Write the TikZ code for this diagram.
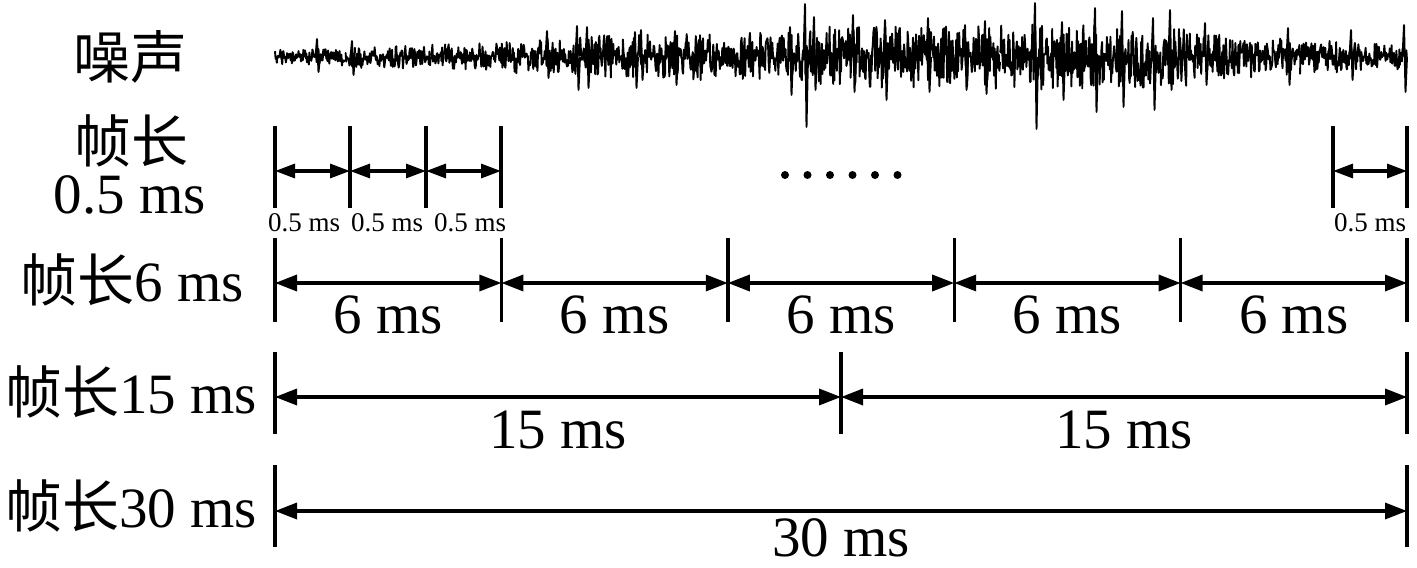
\documentclass[tikz,border=0pt]{standalone}
\usepackage{fontspec}
\setmainfont{Liberation Serif}
\newfontfamily\cjk{Noto Sans CJK SC}
\usetikzlibrary{arrows.meta,calc}
\begin{document}
\begin{tikzpicture}[x=0.5pt,y=-0.5pt,
  tick/.style={line width=1.7pt},
  dim/.style={line width=1.7pt,{Triangle[length=11pt,width=8pt]}-{Triangle[length=11pt,width=8pt]}},
  dimsmall/.style={line width=1.6pt,{Triangle[length=10pt,width=7pt]}-{Triangle[length=10pt,width=7pt]}},
  noise/.style={line width=0.95pt,line join=round},
  big/.style={font=\fontsize{28.5}{30}\selectfont,inner sep=0pt,anchor=base},
  small/.style={font=\fontsize{13.5}{15}\selectfont,inner sep=0pt,anchor=base},
  dotmark/.style={circle,fill,inner sep=0pt,minimum size=4pt},
  declare function={nz(\u)=0.85*\u+0.6*\u*\u*\u;}
]
\useasboundingbox (0,0) rectangle (1417,567);

% ---- noise waveform ----
\pgfmathsetseed{4711}
\foreach \a/\b/\ea/\eb in {275/345/5/6,345/355/6/11,355/365/11/7,365/430/7/9,430/500/9/10,500/520/10/12,
  520/570/12/13,570/600/13/15,600/700/15/16,700/800/16/18,800/820/18/21,820/1000/21/22,
  1000/1060/22/23,1060/1200/23/20,1200/1230/20/15,1230/1300/15/12,1300/1400/12/9,1400/1407/9/8}{
  \pgfmathtruncatemacro\ns{(\b-\a)/0.6+1}
  \draw[noise] plot[domain=\a:\b,samples=\ns,variable=\t]
    (\t,{57+(\ea+(\eb-\ea)*(\t-\a)/(\b-\a))*nz(rand)});
}
\foreach \x/\tp/\bt in {317/39/72,352/41/75,547/31/78,577/26/90,587/27/88,635/32/88,641/30/80,675/31/85,
  790/27/95,805/4/127,814/17/90,853/15/92,885/20/100,928/18/92,965/25/90,985/21/94,
  1035/3/129,1062/22/100,1095/8/112,1122/11/107,1153/18/110,1170/10/90,1205/23/85,
  1288/28/85,1351/30/80,1404/25/92}{
  \draw[noise] (\x-1.5,57) -- (\x,\tp) -- (\x+1.5,\bt) -- (\x+3,57);
}

% ---- left labels ----
\node[big,anchor=center] (lnoise) at (130,57) {\cjk 噪声};
\node[big,anchor=center] (lframe) at (131,141) {\cjk 帧长};
\node[big] (lhalf) at (130,213) {0.5 ms};
\node[big] (lsix) at (132,301) {{\cjk 帧长}6 ms};
\node[big] (lfift) at (131,413) {{\cjk 帧长}15 ms};
\node[big] (lthirty) at (131,527) {{\cjk 帧长}30 ms};

% ---- row 0.5 ms ----
\foreach \x [count=\i from 0] in {275,350,426,501,1333,1407}{
  \coordinate (a\i) at (\x,171);
  \draw[tick] (\x,126) -- (\x,208);
}
\draw[dimsmall] (a0) -- (a1);
\draw[dimsmall] (a1) -- (a2);
\draw[dimsmall] (a2) -- (a3);
\draw[dimsmall] (a4) -- (a5);
\foreach \x [count=\i] in {304,387,470,1370}{
  \node[small] (ta\i) at (\x,231) {0.5 ms};
}
\foreach \x [count=\i] in {785,807.5,830,852.5,875,897.5}{
  \node[dotmark] (dot\i) at (\x,175) {};
}

% ---- row 6 ms ----
\foreach \x [count=\i from 0] in {275,501.4,727.8,954.2,1180.6,1407}{
  \coordinate (b\i) at (\x,283);
  \draw[tick] (\x,238) -- (\x,322);
}
\foreach \i [evaluate=\i as \j using int(\i+1)] in {0,...,4}{
  \draw[dim] (b\i) -- (b\j);
  \node[big] (tb\i) at ($(b\i)!0.5!(b\j)+(0,50)$) {6 ms};
}

% ---- row 15 ms ----
\foreach \x [count=\i from 0] in {275,841,1407}{
  \coordinate (c\i) at (\x,397);
  \draw[tick] (\x,352) -- (\x,434);
}
\draw[dim] (c0) -- (c1);
\draw[dim] (c1) -- (c2);
\node[big] (tc1) at (558,448) {15 ms};
\node[big] (tc2) at (1124,448) {15 ms};

% ---- row 30 ms ----
\foreach \x [count=\i from 0] in {275,1407}{
  \coordinate (d\i) at (\x,511);
  \draw[tick] (\x,465) -- (\x,547);
}
\draw[dim] (d0) -- (d1);
\node[big] (td1) at (841,556) {30 ms};
\end{tikzpicture}
\end{document}
